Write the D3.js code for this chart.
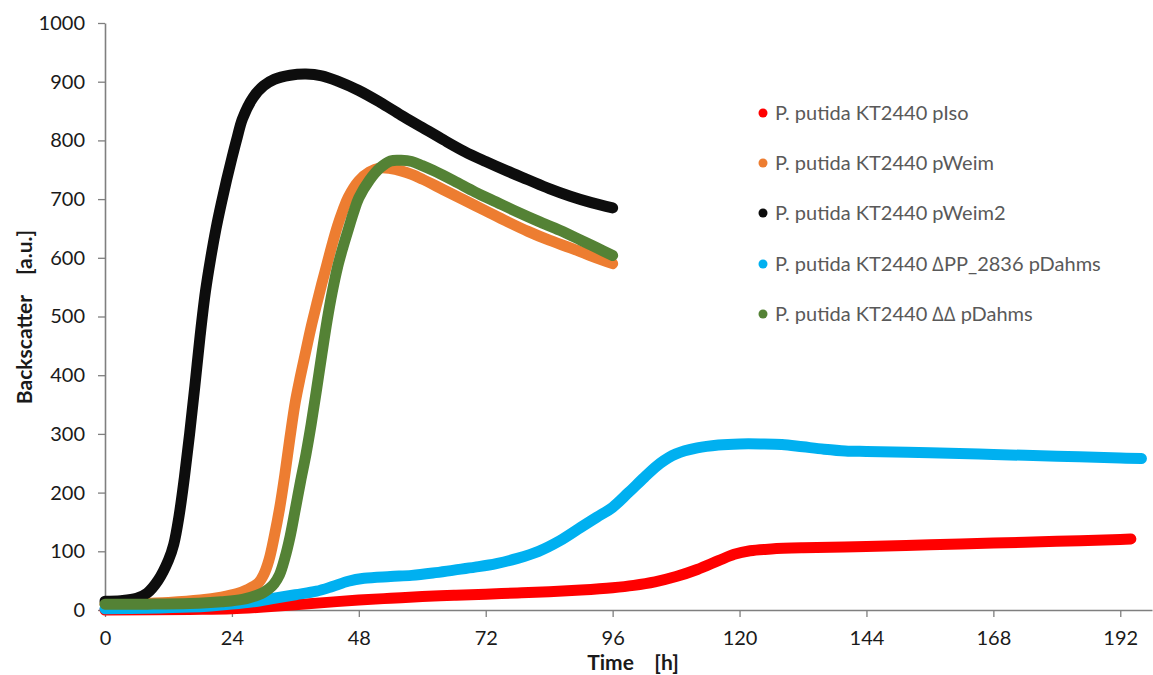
<!DOCTYPE html>
<html>
<head>
<meta charset="utf-8">
<script src="https://cdn.jsdelivr.net/npm/d3@7"></script>
<style>
  html, body { margin: 0; padding: 0; background: #fff; }
  svg { display: block; }
  text { font-family: Lato, "Open Sans", sans-serif; }
</style>
</head>
<body>
<svg id="chart" width="1153" height="675"></svg>
<script>
// ---- data ----
const seriesNames = [
  "P. putida KT2440 pIso",
  "P. putida KT2440 pWeim",
  "P. putida KT2440 pWeim2",
  "P. putida KT2440 \u2206PP_2836 pDahms",
  "P. putida KT2440 \u2206\u2206 pDahms"
];
const seriesColors = ["#FF0000", "#ED7D31", "#0D0D0D", "#00B0F0", "#548235"];

const pIso = [[0,0],[16,1],[24,2],[30,5],[36,9],[42,13],[48,17],[54,20],[60,23],[66,25],[72,27],[78,29],[84,31],[90,34],[96,38],[100,42],[104,48],[108,57],[112,69],[116,84],[119,95],[122,101],[126,104],[132,106],[144,108],[156,111],[168,114],[180,117],[192,120],[194,121]];
const pWeim = [[0,10],[6,11],[12,13],[18,17],[22,22],[25,28],[27,35],[29,46],[30,60],[31,85],[32,125],[33,172],[34,230],[35,295],[36,355],[37,400],[38,442],[39,483],[40,520],[41,556],[42,590],[43,624],[44,655],[45,681],[46,703],[48,731],[50,746],[52,753],[54,752],[56,748],[58,742],[60,734],[64,716],[68,698],[72,680],[76,662],[80,645],[84,630],[88,617],[92,603],[96,590]];
const pWeim2 = [[0,15],[3,16],[6,20],[8,29],[10,50],[12,85],[13,112],[14,160],[15,225],[16,300],[17,382],[18,468],[19,543],[20,600],[21,650],[22,693],[23,733],[24,770],[25,805],[26,837],[28,873],[30,893],[32,904],[35,911],[38,913],[41,910],[44,901],[48,885],[52,865],[56,843],[60,822],[64,801],[68,781],[72,764],[76,748],[80,733],[84,718],[88,705],[92,694],[96,685]];
const dPP = [[0,2],[8,3],[16,5],[20,7],[24,10],[28,14],[32,20],[36,26],[40,32],[43,40],[46,49],[49,54],[54,57],[58,59],[62,63],[66,68],[70,73],[74,79],[78,88],[82,100],[86,118],[90,141],[93,158],[96,175],[99,200],[102,226],[105,250],[108,266],[112,276],[116,281],[120,283],[124,283],[128,282],[132,278],[136,274],[140,271],[144,270],[156,268],[168,265],[180,262],[192,259],[196,258]];
const dd = [[0,10],[8,10],[16,11],[22,14],[26,18],[29,26],[30,30],[31,36],[32,45],[33,60],[34,88],[35,125],[36,172],[37,220],[38,265],[39,317],[40,375],[41,435],[42,493],[43,543],[44,585],[45,618],[46,648],[47,677],[48,702],[50,732],[52,753],[54,765],[56,766],[58,764],[60,757],[62,749],[66,731],[70,712],[74,695],[78,678],[82,662],[86,647],[90,630],[93,617],[96,604]];
const seriesData = [pIso, pWeim, pWeim2, dPP, dd];

const xTicks = [0, 24, 48, 72, 96, 120, 144, 168, 192];
const yTicks = [0, 100, 200, 300, 400, 500, 600, 700, 800, 900, 1000];

// ---- layout ----
const svg = d3.select("#chart");
const x = d3.scaleLinear().domain([0, 198]).range([105, 1152]);
const y = d3.scaleLinear().domain([0, 1000]).range([610, 23]);
const axisColor = "#7f7f7f";

// axes
const xAxis = svg.append("g").attr("transform", `translate(0,${y(0)})`)
  .call(d3.axisBottom(x).tickValues(xTicks).tickFormat(d3.format("d")).tickSize(7).tickPadding(14).tickSizeOuter(0));
const yAxis = svg.append("g").attr("transform", `translate(${x(0)},0)`)
  .call(d3.axisLeft(y).tickValues(yTicks).tickFormat(d3.format("d")).tickSize(7).tickPadding(13).tickSizeOuter(0));
[xAxis, yAxis].forEach(g => {
  g.selectAll("path.domain").attr("stroke", axisColor).attr("stroke-width", 1.6);
  g.selectAll(".tick line").attr("stroke", axisColor).attr("stroke-width", 1.3);
  g.selectAll(".tick text").attr("fill", "#1a1a1a").style("font-size", "20px")
    .style("font-family", "Lato, sans-serif");
});

// lines
const line = d3.line().x(d => x(d[0])).y(d => y(d[1])).curve(d3.curveCatmullRom.alpha(0.5));
seriesData.forEach((s, i) => {
  svg.append("path").datum(s)
    .attr("fill", "none")
    .attr("stroke", seriesColors[i])
    .attr("stroke-width", 11)
    .attr("stroke-linecap", "round")
    .attr("stroke-linejoin", "round")
    .attr("d", line);
});

// axis titles
svg.append("text")
  .attr("x", 633).attr("y", 670)
  .attr("text-anchor", "middle")
  .style("font-size", "21px").style("font-weight", "700").attr("fill", "#1a1a1a")
  .style("white-space", "pre")
  .text("Time    [h]");
svg.append("text")
  .attr("transform", "translate(32,317) rotate(-90)")
  .attr("text-anchor", "middle")
  .style("font-size", "21px").style("font-weight", "700").attr("fill", "#1a1a1a")
  .style("white-space", "pre")
  .text("Backscatter    [a.u.]");

// legend
const legY = [113, 163, 213, 264, 314];
seriesNames.forEach((name, i) => {
  const g = svg.append("g").attr("transform", `translate(763,${legY[i]})`);
  g.append("circle").attr("r", 4.5).attr("fill", seriesColors[i]);
  g.append("text").attr("x", 12).attr("y", 7)
    .style("font-size", "20px").attr("fill", "#595959")
    .text(name);
});
</script>
</body>
</html>
